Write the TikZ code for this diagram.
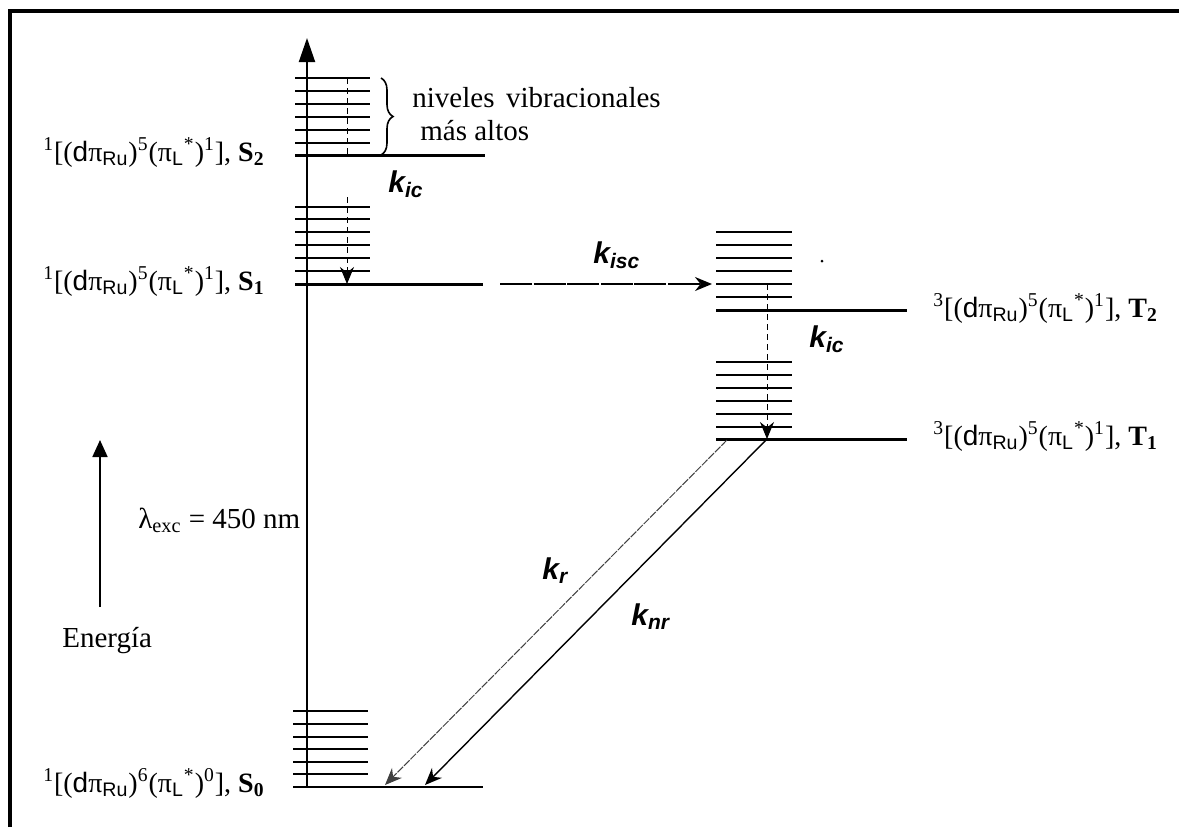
\documentclass[tikz,border=0pt]{standalone}
\usepackage{fontspec}
\setmainfont{Liberation Serif}
\newfontfamily\arialf{Liberation Sans}
\usetikzlibrary{arrows.meta,decorations.pathreplacing}
\newcommand\dpiR{({\arialf d}π\textsubscript{\arialf Ru})}
\newcommand\piLs{(π\textsubscript{\arialf L}\textsuperscript{*})}
\newcommand\kk[1]{{\arialf\bfseries\itshape k\textsubscript{#1}}}
\tikzset{
  lvl/.style={line width=1.5pt},
  vib/.style={line width=0.9pt},
  lab/.style={font=\fontsize{14.5}{16}\selectfont, inner sep=0pt},
  slab/.style={font=\fontsize{14}{16}\selectfont, inner sep=0pt},
  klab/.style={font=\fontsize{15}{17}\selectfont, inner sep=0pt, anchor=base west},
  tipsm/.style={-{Stealth[length=8.5pt,width=7pt]}},
  vdash/.style={line width=0.5pt, densely dashed},
}
\begin{document}
\begin{tikzpicture}[x=0.5pt,y=-0.5pt]
\useasboundingbox (0,0) rectangle (1179,827);
% frame
\draw[line width=2pt] (10,827) -- (10,11) -- (1179,11);
% energy axis
\coordinate (axb) at (307,787);
\coordinate (axt) at (307,38);
\draw[line width=1pt,-{Triangle[length=12pt,width=8pt]}] (axb) -- (axt);
% vibrational levels
\foreach \y in {78,91,104,117,130,143} \draw[vib] (295,\y) -- (370,\y);
\foreach \y in {207,219,232,245,258,271} \draw[vib] (295,\y) -- (370,\y);
\foreach \y in {232,245,258,271,284,297} \draw[vib] (716,\y) -- (792,\y);
\foreach \y in {362,375,388,401,414,427} \draw[vib] (716,\y) -- (792,\y);
\foreach \y in {711,724,737,749,762,774} \draw[vib] (293,\y) -- (368,\y);
% main levels
\coordinate (S2a) at (295,155); \coordinate (S2b) at (485,155);
\coordinate (S1a) at (295,284); \coordinate (S1b) at (483,284);
\coordinate (T2a) at (716,310); \coordinate (T2b) at (907,310);
\coordinate (T1a) at (716,439); \coordinate (T1b) at (907,439);
\coordinate (S0a) at (293,787); \coordinate (S0b) at (483,787);
\draw[lvl] (S2a) -- (S2b);
\draw[lvl] (S1a) -- (S1b);
\draw[lvl] (T2a) -- (T2b);
\draw[lvl] (T1a) -- (T1b);
\draw[line width=1.2pt] (S0a) -- (S0b);
% brace
\coordinate (brt) at (381,78); \coordinate (brb) at (381,155);
\draw[line width=0.8pt, decorate, decoration={brace, amplitude=6pt}] (brt) -- (brb);
\node[lab, anchor=base west] (niv) at (412,107) {niveles\hspace{0.4em}vibracionales};
\node[lab, anchor=base west] (mas) at (420,140) {más altos};
% ic S2 -> S1
\coordinate (ic1a) at (347,78); \coordinate (ic1b) at (347,155);
\coordinate (ic1c) at (347,197); \coordinate (ic1d) at (347,284);
\draw[vdash] (ic1a) -- (ic1b);
\draw[vdash, tipsm] (ic1c) -- (ic1d);
% isc
\coordinate (isa) at (500,284); \coordinate (isb) at (712,284);
\draw[line width=0.8pt, dash pattern=on 16pt off 0.8pt, tipsm] (isa) -- (isb);
% ic T2 -> T1
\coordinate (ic2a) at (767,284); \coordinate (ic2b) at (767,439);
\draw[vdash, tipsm] (ic2a) -- (ic2b);
% radiative / non radiative
\coordinate (kra) at (727,440); \coordinate (krb) at (385,785);
\coordinate (knra) at (766,440); \coordinate (knrb) at (425,785);
\draw[line width=0.5pt, black!75, dash pattern=on 4pt off 0.6pt, tipsm] (kra) -- (krb);
\draw[line width=0.7pt, tipsm] (knra) -- (knrb);
% stray dot
\fill (822,261) circle (1.5);
% energy arrow
\coordinate (ena) at (100,607); \coordinate (enb) at (100,440);
\draw[line width=0.9pt, -{Triangle[length=8.5pt,width=7.5pt]}] (ena) -- (enb);
\node[lab, anchor=base west] (energia) at (62,647) {Energía};
\node[lab, anchor=base west] (lam) at (138,528) {λ\textsubscript{exc} = 450 nm};
% state labels
\node[slab, anchor=base east] (lS2) at (265,161) {\textsuperscript{1}[\dpiR\textsuperscript{5}\piLs\textsuperscript{1}], \textbf{S\textsubscript{2}}};
\node[slab, anchor=base east] (lS1) at (265,290) {\textsuperscript{1}[\dpiR\textsuperscript{5}\piLs\textsuperscript{1}], \textbf{S\textsubscript{1}}};
\node[slab, anchor=base east] (lS0) at (265,792) {\textsuperscript{1}[\dpiR\textsuperscript{6}\piLs\textsuperscript{0}], \textbf{S\textsubscript{0}}};
\node[slab, anchor=base west] (lT2) at (933,317) {\textsuperscript{3}[\dpiR\textsuperscript{5}\piLs\textsuperscript{1}], \textbf{T\textsubscript{2}}};
\node[slab, anchor=base west] (lT1) at (933,445) {\textsuperscript{3}[\dpiR\textsuperscript{5}\piLs\textsuperscript{1}], \textbf{T\textsubscript{1}}};
% rate labels
\node[klab] (kic1) at (388,192) {\kk{ic}};
\node[klab] (kisc) at (593,263) {\kk{isc}};
\node[klab] (kic2) at (809,347) {\kk{ic}};
\node[klab] (kr) at (542,579) {\kk{r}};
\node[klab] (knr) at (631,625) {\kk{nr}};
\end{tikzpicture}
\end{document}
